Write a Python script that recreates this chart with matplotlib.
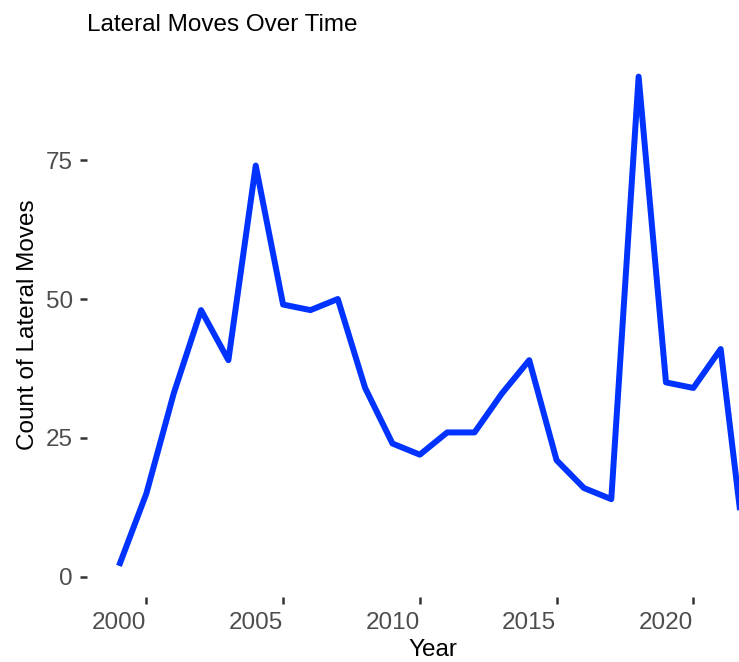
import matplotlib
matplotlib.use("Agg")
import matplotlib.pyplot as plt

plt.rcParams['font.family'] = ['Liberation Sans', 'DejaVu Sans']

# yearly counts
years = [2000, 2001, 2002, 2003, 2004, 2005, 2006, 2007, 2008, 2009, 2010, 2011,
         2012, 2013, 2014, 2015, 2016, 2017, 2018, 2019, 2020, 2021, 2022, 2023]
moves = [2, 15, 33, 48, 39, 74, 49, 48, 50, 34, 24, 22,
         26, 26, 33, 39, 21, 16, 14, 90, 35, 34, 41, 0]

xtick_years = [2000, 2005, 2010, 2015, 2020]
ytick_vals = [0, 25, 50, 75]

fs = 17.5

fig = plt.figure(figsize=(7.39, 6.62), dpi=100)
ax = fig.add_axes([87/739, 65/662, 652/739, 545.4/662])

ax.plot(years, moves, color='#0033FF', lw=4.3,
        solid_capstyle='butt', solid_joinstyle='round')

ax.set_xlim(1998.83, 2022.67)
ax.set_ylim(-3.6, 94.5)

for s in ax.spines.values():
    s.set_visible(False)

# labels sit on the years, the tick marks one year later (as in the original)
ax.set_xticks(xtick_years)
ax.set_xticklabels([str(y) for y in xtick_years])
ax.set_xticks([y + 1 for y in xtick_years], minor=True)
ax.tick_params(axis='x', which='major', length=0, pad=11,
               labelsize=fs, labelcolor='#4D4D4D')
ax.tick_params(axis='x', which='minor', length=5, width=1.8,
               color='#333333')

ax.set_yticks(ytick_vals)
ax.tick_params(axis='y', length=5, width=1.8, color='#333333', pad=5,
               labelsize=fs, labelcolor='#4D4D4D')

ax.set_xlabel('Year', fontsize=fs, color='black', va='center')
ax.xaxis.set_label_coords(0.531, -0.097)
ax.set_ylabel('Count of Lateral Moves', fontsize=fs, color='black', labelpad=5)
ax.set_title('Lateral Moves Over Time', loc='left', fontsize=fs, pad=15)

fig.savefig('out.png', dpi=100)
